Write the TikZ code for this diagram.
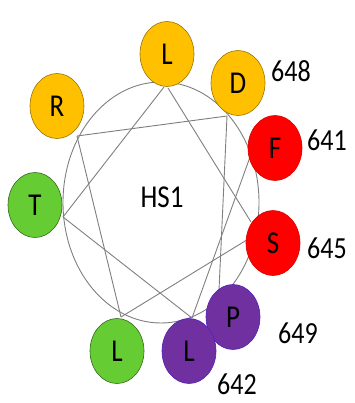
\documentclass[tikz,border=0pt]{standalone}
\usepackage{fontspec}
\usepackage{graphicx}
\setmainfont{Carlito}
\usetikzlibrary{shapes.geometric}
\definecolor{cor}{HTML}{FFC000}
\definecolor{cre}{HTML}{FF0000}
\definecolor{cgr}{HTML}{66CC33}
\definecolor{cpu}{HTML}{7030A0}
\definecolor{cln}{HTML}{7F7F7F}
\newcommand\tallt[1]{\scalebox{1}[1.18]{#1}}
\begin{document}
\begin{tikzpicture}[x=1pt,y=-1pt,
  res/.style={ellipse, minimum width=54pt, minimum height=65pt, inner sep=0pt,
    line width=0.6pt, font=\fontsize{27}{27}\selectfont},
  orres/.style={res, fill=cor, draw=cor!60!black},
  reres/.style={res, fill=cre, draw=cre!85!black},
  grres/.style={res, fill=cgr, draw=cgr!50!black},
  pures/.style={res, fill=cpu, draw=cpu!70!blue},
  num/.style={font=\fontsize{26}{26}\selectfont, inner sep=0pt},
  wheel/.style={draw=cln, line width=0.9pt},
  link/.style={draw=cln, line width=0.9pt}]
\useasboundingbox (0,0) rectangle (354,403);
% central helix outline
\node[wheel, ellipse, minimum width=196pt, minimum height=241pt, inner sep=0pt] (wheel) at (161,202.5) {};
\node[font=\fontsize{27}{27}\selectfont, inner sep=0pt] (hs) at (162,197) {\tallt{HS1}};
% attachment points
\coordinate (aL1) at (164,87);
\coordinate (aL2) at (168,88);
\coordinate (aD) at (227,116);
\coordinate (aR) at (77,136);
\coordinate (aT) at (63,217);
\coordinate (aLg) at (121,317);
\coordinate (aLp) at (192,318);
\coordinate (aP) at (219,290);
\coordinate (aS1) at (251,222);
\coordinate (aS2) at (250,238);
\coordinate (aF) at (250,157);
% helix connections 641 -> 649
\draw[link] (aF) -- (aLp);
\draw[link] (aLp) -- (aT);
\draw[link] (aT) -- (aL1);
\draw[link] (aL2) -- (aS1);
\draw[link] (aS2) -- (aLg);
\draw[link] (aLg) -- (aR);
\draw[link] (aR) -- (aD);
\draw[link] (aD) -- (aP);
% residues
\node[orres] (Ltop) at (167,54) {\tallt{L}};
\node[orres] (D) at (238,83) {\tallt{D}};
\node[orres] (R) at (57,106) {\tallt{R}};
\node[reres] (F) at (275,148) {\tallt{F}};
\node[grres] (T) at (35,205) {\tallt{T}};
\node[reres] (S) at (273,243) {\tallt{S}};
\node[pures] (P) at (233,317) {\tallt{P}};
\node[pures] (Lp) at (189,351) {\tallt{L}};
\node[grres] (Lg) at (117,351) {\tallt{L}};
% residue numbers
\node[num] (n648) at (291,71) {\tallt{648}};
\node[num] (n641) at (327,140) {\tallt{641}};
\node[num] (n645) at (327,248) {\tallt{645}};
\node[num] (n649) at (298,333) {\tallt{649}};
\node[num] (n642) at (237,384) {\tallt{642}};
\end{tikzpicture}
\end{document}
